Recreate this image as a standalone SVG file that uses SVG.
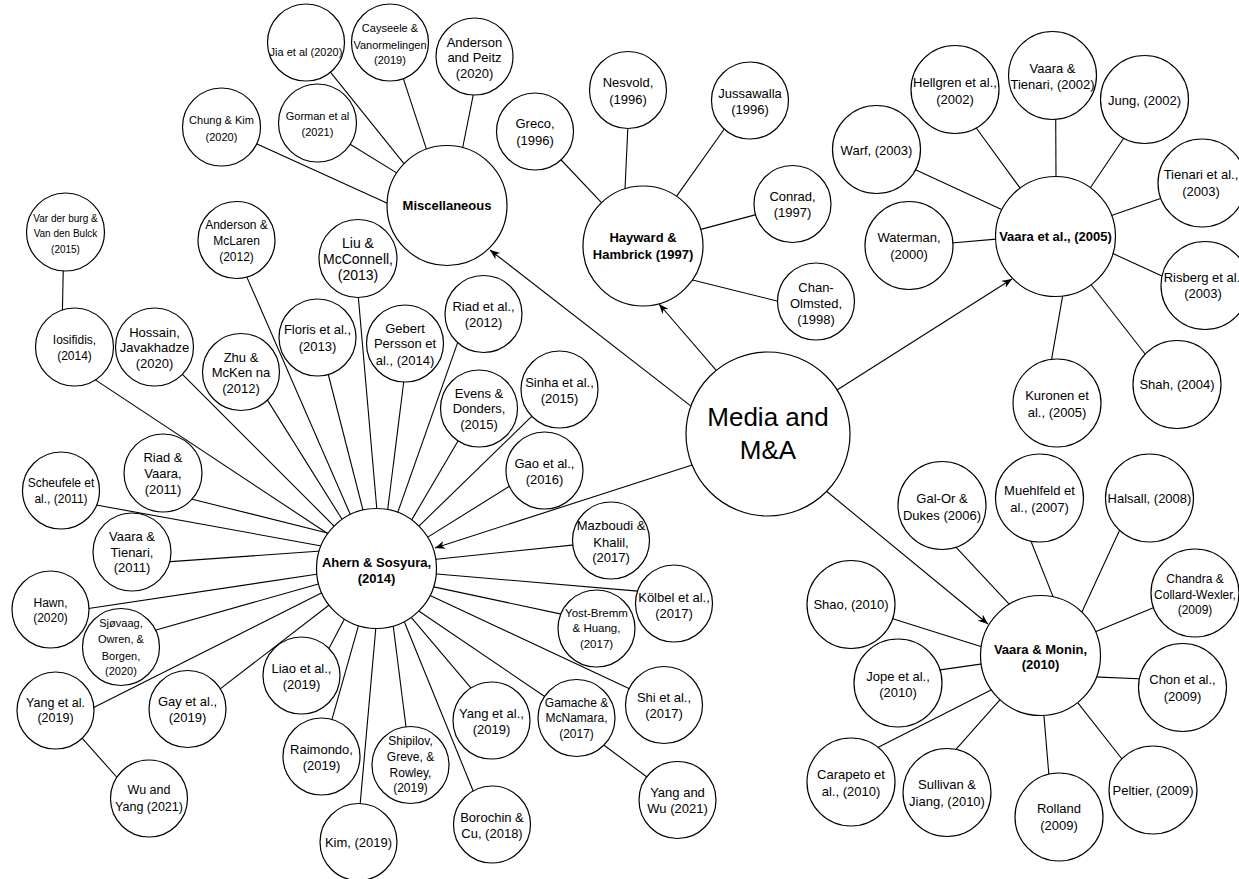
<svg xmlns="http://www.w3.org/2000/svg" width="1239" height="879" viewBox="0 0 1239 879">
<style>
.n circle{fill:#fff;stroke:#000;stroke-width:1.2}
#edges line{stroke:#000;stroke-width:1.1}
text{font-family:'Liberation Sans',Arial,Helvetica,sans-serif;text-anchor:middle;dominant-baseline:central;fill:#000}
.f10{font-size:10px}.f11{font-size:11px}.f12{font-size:12px}.f13{font-size:13px}.f14{font-size:14px}
.b{font-size:13px;font-weight:bold}
.big{font-size:26px}
</style>
<defs>
<marker id="arr" markerUnits="userSpaceOnUse" markerWidth="12" markerHeight="10" refX="10" refY="4" orient="auto">
<path d="M0,0 L10,4 L0,8 L3,4 z" fill="#000"/>
</marker>
</defs>
<rect width="1239" height="879" fill="#fff"/>
<g id="edges">
<line x1="329.4" y1="70.9" x2="405.2" y2="165.1"/>
<line x1="402.6" y1="76.3" x2="427" y2="150.9"/>
<line x1="474" y1="91.2" x2="462.2" y2="150"/>
<line x1="347.7" y1="142.8" x2="399.5" y2="174.6"/>
<line x1="253.5" y1="142.3" x2="389" y2="204.1"/>
<line x1="559.3" y1="158" x2="602.2" y2="203.3"/>
<line x1="628" y1="124.2" x2="625" y2="189"/>
<line x1="725.7" y1="127" x2="676.3" y2="196.6"/>
<line x1="758.8" y1="213.9" x2="699" y2="229.9"/>
<line x1="780.9" y1="302" x2="689.5" y2="279.3"/>
<line x1="974.8" y1="126" x2="1021.8" y2="190.4"/>
<line x1="1055.7" y1="114.7" x2="1056" y2="179"/>
<line x1="1125.2" y1="136" x2="1089.2" y2="189.5"/>
<line x1="913.9" y1="168.9" x2="1003.7" y2="210.4"/>
<line x1="948.6" y1="243.3" x2="999" y2="238.9"/>
<line x1="1163.3" y1="197.4" x2="1110.1" y2="216"/>
<line x1="1166.3" y1="277.9" x2="1112" y2="253.1"/>
<line x1="1050.7" y1="364.3" x2="1062.6" y2="296.1"/>
<line x1="1148.2" y1="358" x2="1090.9" y2="284.5"/>
<line x1="951.9" y1="542.9" x2="1010.6" y2="605.6"/>
<line x1="1029.2" y1="536.7" x2="1054.3" y2="599.9"/>
<line x1="1121.2" y1="526.8" x2="1080.9" y2="614.2"/>
<line x1="1156.3" y1="606.5" x2="1094.2" y2="632.2"/>
<line x1="888.8" y1="617.6" x2="984" y2="647.4"/>
<line x1="936.7" y1="670.4" x2="984" y2="663.6"/>
<line x1="875.3" y1="748.7" x2="992.5" y2="689.2"/>
<line x1="952.4" y1="753.4" x2="1000.1" y2="699.7"/>
<line x1="1049.1" y1="777.4" x2="1043.8" y2="714.1"/>
<line x1="1125.1" y1="763" x2="1076.1" y2="700.6"/>
<line x1="1144.3" y1="679" x2="1094.2" y2="676.9"/>
<line x1="63.3" y1="267.1" x2="62.4" y2="311.9"/>
<line x1="92" y1="377.6" x2="329.5" y2="534.8"/>
<line x1="180.2" y1="372.2" x2="336.1" y2="528.1"/>
<line x1="266.2" y1="398.1" x2="342.8" y2="520.5"/>
<line x1="246" y1="275.1" x2="351.3" y2="516.7"/>
<line x1="358" y1="293.2" x2="377" y2="511"/>
<line x1="327.9" y1="373" x2="363.7" y2="512.9"/>
<line x1="404.1" y1="379" x2="387.4" y2="512"/>
<line x1="457.9" y1="341.9" x2="396.9" y2="514.8"/>
<line x1="458.3" y1="440.5" x2="410.2" y2="522.4"/>
<line x1="533" y1="415.2" x2="416.9" y2="528.1"/>
<line x1="510.8" y1="485.4" x2="425.4" y2="538.6"/>
<line x1="576.8" y1="544.6" x2="434" y2="559.5"/>
<line x1="640.7" y1="591.4" x2="434" y2="573.7"/>
<line x1="563.7" y1="614.6" x2="430.2" y2="586.1"/>
<line x1="631.6" y1="689.7" x2="426.4" y2="593.7"/>
<line x1="547.3" y1="698.2" x2="416.9" y2="609.8"/>
<line x1="601.3" y1="743.2" x2="650" y2="779.3"/>
<line x1="473" y1="690.4" x2="411.2" y2="617.4"/>
<line x1="474.9" y1="795.3" x2="404.5" y2="622.2"/>
<line x1="406.5" y1="730.8" x2="393.1" y2="625"/>
<line x1="359.9" y1="806.9" x2="376" y2="626"/>
<line x1="331" y1="722.8" x2="358.9" y2="624.1"/>
<line x1="327.2" y1="651.7" x2="344.7" y2="618.4"/>
<line x1="218.6" y1="690.1" x2="331.4" y2="603.2"/>
<line x1="90.2" y1="709.2" x2="323.8" y2="591.8"/>
<line x1="80.3" y1="736.2" x2="120.2" y2="781"/>
<line x1="153.4" y1="630.8" x2="321" y2="583.2"/>
<line x1="85.2" y1="609" x2="320" y2="573.7"/>
<line x1="167.1" y1="561.9" x2="321" y2="551"/>
<line x1="93.4" y1="504.5" x2="322.8" y2="546.2"/>
<line x1="188.2" y1="498.2" x2="330.4" y2="533.8"/>
<line x1="693.9" y1="408.4" x2="490" y2="250" marker-end="url(#arr)"/>
<line x1="718.6" y1="373.2" x2="659" y2="304" marker-end="url(#arr)"/>
<line x1="836.6" y1="390.3" x2="1012" y2="279" marker-end="url(#arr)"/>
<line x1="825" y1="490" x2="988" y2="624" marker-end="url(#arr)"/>
<line x1="696.8" y1="463.5" x2="435" y2="548" marker-end="url(#arr)"/>
</g>

<g id="media" class="n"><circle cx="768" cy="434" r="82"/><text class="big"><tspan x="768" y="417">Media and</tspan><tspan x="768" y="450">M&amp;A</tspan></text></g>
<g id="misc" class="n"><circle cx="447" cy="205.5" r="60"/><text class="b" x="447" y="205">Miscellaneous</text></g>
<g id="hayward" class="n"><circle cx="643" cy="246" r="60"/><text class="b"><tspan x="643" y="237">Hayward &amp;</tspan><tspan x="643" y="254">Hambrick (1997)</tspan></text></g>
<g id="vaara2005" class="n"><circle cx="1055.5" cy="236.5" r="60"/><text class="b" x="1055.5" y="236">Vaara et al., (2005)</text></g>
<g id="vaaramonin" class="n"><circle cx="1040.5" cy="655.5" r="60"/><text class="b"><tspan x="1040.5" y="649">Vaara &amp; Monin,</tspan><tspan x="1040.5" y="664">(2010)</tspan></text></g>
<g id="ahern" class="n"><circle cx="376.5" cy="568.5" r="60"/><text class="b"><tspan x="376.5" y="562">Ahern &amp; Sosyura,</tspan><tspan x="376.5" y="578">(2014)</tspan></text></g>

<g id="jia" class="n"><circle cx="306" cy="42.5" r="38.5"/><text class="f11" x="306" y="52">Jia et al (2020)</text></g>
<g id="cayseele" class="n"><circle cx="390" cy="42.5" r="38.5"/><text class="f11"><tspan x="390" y="28">Cayseele &amp;</tspan><tspan x="390" y="45">Vanormelingen</tspan><tspan x="390" y="60">(2019)</tspan></text></g>
<g id="andersonpeitz" class="n"><circle cx="474.5" cy="56.5" r="38.5"/><text class="f13"><tspan x="474.5" y="42">Anderson</tspan><tspan x="474.5" y="57">and Peitz</tspan><tspan x="474.5" y="73">(2020)</tspan></text></g>
<g id="gorman" class="n"><circle cx="317.5" cy="123" r="39"/><text class="f11"><tspan x="317.5" y="116">Gorman et al</tspan><tspan x="317.5" y="132">(2021)</tspan></text></g>
<g id="chung" class="n"><circle cx="221.5" cy="127" r="39"/><text class="f11"><tspan x="221.5" y="120">Chung &amp; Kim</tspan><tspan x="221.5" y="137">(2020)</tspan></text></g>

<g id="greco" class="n"><circle cx="535" cy="131.5" r="38.5"/><text class="f13"><tspan x="535" y="123">Greco,</tspan><tspan x="535" y="140">(1996)</tspan></text></g>
<g id="nesvold" class="n"><circle cx="628" cy="90" r="38.5"/><text class="f13"><tspan x="628" y="82">Nesvold,</tspan><tspan x="628" y="99">(1996)</tspan></text></g>
<g id="jussawalla" class="n"><circle cx="750" cy="100.5" r="38.5"/><text class="f13"><tspan x="750" y="93">Jussawalla</tspan><tspan x="750" y="109">(1996)</tspan></text></g>
<g id="conrad" class="n"><circle cx="792.5" cy="204" r="38.5"/><text class="f13"><tspan x="792.5" y="196">Conrad,</tspan><tspan x="792.5" y="212">(1997)</tspan></text></g>
<g id="chanolmsted" class="n"><circle cx="816" cy="301.5" r="38.5"/><text class="f13"><tspan x="816" y="287">Chan-</tspan><tspan x="816" y="303">Olmsted,</tspan><tspan x="816" y="319">(1998)</tspan></text></g>

<g id="hellgren" class="n"><circle cx="955" cy="89.5" r="44"/><text class="f13"><tspan x="955" y="82">Hellgren et al.,</tspan><tspan x="955" y="99">(2002)</tspan></text></g>
<g id="vaaratienari2002" class="n"><circle cx="1052.5" cy="75.5" r="44"/><text class="f13"><tspan x="1052.5" y="68">Vaara &amp;</tspan><tspan x="1052.5" y="84">Tienari, (2002)</tspan></text></g>
<g id="jung" class="n"><circle cx="1144.5" cy="99.5" r="44"/><text class="f13" x="1144.5" y="100">Jung, (2002)</text></g>
<g id="warf" class="n"><circle cx="876.5" cy="149.5" r="44"/><text class="f13" x="876.5" y="150">Warf, (2003)</text></g>
<g id="waterman" class="n"><circle cx="909" cy="245.5" r="44"/><text class="f13"><tspan x="909" y="237">Waterman,</tspan><tspan x="909" y="254">(2000)</tspan></text></g>
<g id="tienari2003" class="n"><circle cx="1202" cy="183" r="44"/><text class="f13"><tspan x="1201" y="174">Tienari et al.,</tspan><tspan x="1201" y="191">(2003)</tspan></text></g>
<g id="risberg" class="n"><circle cx="1205" cy="285.5" r="44"/><text class="f13"><tspan x="1202" y="277">Risberg et al.</tspan><tspan x="1203" y="293">(2003)</tspan></text></g>
<g id="kuronen" class="n"><circle cx="1057" cy="403" r="44"/><text class="f13"><tspan x="1057" y="395">Kuronen et</tspan><tspan x="1057" y="412">al., (2005)</tspan></text></g>
<g id="shah" class="n"><circle cx="1177" cy="384.5" r="44"/><text class="f13" x="1177" y="384">Shah, (2004)</text></g>

<g id="galor" class="n"><circle cx="942" cy="505.5" r="44"/><text class="f13"><tspan x="942" y="498">Gal-Or &amp;</tspan><tspan x="942" y="515">Dukes (2006)</tspan></text></g>
<g id="muehlfeld" class="n"><circle cx="1039.5" cy="498" r="44"/><text class="f13"><tspan x="1039.5" y="490">Muehlfeld et</tspan><tspan x="1039.5" y="507">al., (2007)</tspan></text></g>
<g id="halsall" class="n"><circle cx="1149.5" cy="498" r="44"/><text class="f13" x="1149.5" y="498">Halsall, (2008)</text></g>
<g id="chandra" class="n"><circle cx="1195" cy="593" r="44"/><text class="f12"><tspan x="1195" y="579">Chandra &amp;</tspan><tspan x="1195" y="595">Collard-Wexler,</tspan><tspan x="1195" y="610">(2009)</tspan></text></g>
<g id="shao" class="n"><circle cx="851" cy="604.5" r="44"/><text class="f13" x="851" y="604">Shao, (2010)</text></g>
<g id="jope" class="n"><circle cx="898" cy="683" r="44"/><text class="f13"><tspan x="898" y="676">Jope et al.,</tspan><tspan x="898" y="692">(2010)</tspan></text></g>
<g id="carapeto" class="n"><circle cx="851" cy="782" r="44"/><text class="f13"><tspan x="851" y="774">Carapeto et</tspan><tspan x="851" y="791">al., (2010)</tspan></text></g>
<g id="sullivan" class="n"><circle cx="947" cy="792.5" r="44"/><text class="f13"><tspan x="947" y="784">Sullivan &amp;</tspan><tspan x="947" y="801">Jiang, (2010)</tspan></text></g>
<g id="rolland" class="n"><circle cx="1059" cy="817" r="44"/><text class="f13"><tspan x="1059" y="808">Rolland</tspan><tspan x="1059" y="825">(2009)</tspan></text></g>
<g id="peltier" class="n"><circle cx="1153" cy="790" r="44"/><text class="f13" x="1153" y="790">Peltier, (2009)</text></g>
<g id="chon" class="n"><circle cx="1182.5" cy="687.5" r="44"/><text class="f13"><tspan x="1182.5" y="679">Chon et al.,</tspan><tspan x="1182.5" y="696">(2009)</tspan></text></g>

<g id="vanderburg" class="n"><circle cx="65.5" cy="232" r="39"/><text class="f10"><tspan x="65.5" y="218">Var der burg &amp;</tspan><tspan x="65.5" y="233">Van den Bulck</tspan><tspan x="65.5" y="249">(2015)</tspan></text></g>
<g id="iosifidis" class="n"><circle cx="74.5" cy="347" r="39"/><text class="f12"><tspan x="74.5" y="340">Iosifidis,</tspan><tspan x="74.5" y="356">(2014)</tspan></text></g>
<g id="hossain" class="n"><circle cx="154.5" cy="347" r="39"/><text class="f13"><tspan x="154.5" y="332">Hossain,</tspan><tspan x="154.5" y="347">Javakhadze</tspan><tspan x="154.5" y="363">(2020)</tspan></text></g>
<g id="zhu" class="n"><circle cx="241" cy="372" r="38.5"/><text class="f13"><tspan x="241" y="357">Zhu &amp;</tspan><tspan x="241" y="372">McKen na</tspan><tspan x="241" y="388">(2012)</tspan></text></g>
<g id="andersonmclaren" class="n"><circle cx="236.5" cy="240" r="38.5"/><text class="f12"><tspan x="236.5" y="225">Anderson &amp;</tspan><tspan x="236.5" y="241">McLaren</tspan><tspan x="236.5" y="257">(2012)</tspan></text></g>
<g id="liu" class="n"><circle cx="358" cy="258.5" r="39"/><text class="f14"><tspan x="358" y="243">Liu &amp;</tspan><tspan x="358" y="259">McConnell,</tspan><tspan x="358" y="275">(2013)</tspan></text></g>
<g id="floris" class="n"><circle cx="317.5" cy="337.5" r="38.5"/><text class="f13"><tspan x="317.5" y="329">Floris et al.,</tspan><tspan x="317.5" y="346">(2013)</tspan></text></g>
<g id="gebert" class="n"><circle cx="405" cy="343.5" r="38.5"/><text class="f13"><tspan x="405" y="328">Gebert</tspan><tspan x="405" y="343">Persson et</tspan><tspan x="405" y="360">al., (2014)</tspan></text></g>
<g id="riad2012" class="n"><circle cx="483.5" cy="314" r="38.5"/><text class="f13"><tspan x="483.5" y="306">Riad et al.,</tspan><tspan x="483.5" y="322">(2012)</tspan></text></g>
<g id="evens" class="n"><circle cx="479" cy="408.5" r="38.5"/><text class="f13"><tspan x="479" y="393">Evens &amp;</tspan><tspan x="479" y="408">Donders,</tspan><tspan x="479" y="424">(2015)</tspan></text></g>
<g id="sinha" class="n"><circle cx="559.5" cy="389.5" r="38.5"/><text class="f13"><tspan x="559.5" y="382">Sinha et al.,</tspan><tspan x="559.5" y="398">(2015)</tspan></text></g>
<g id="gao" class="n"><circle cx="544.5" cy="470.5" r="38.5"/><text class="f13"><tspan x="544.5" y="463">Gao et al.,</tspan><tspan x="544.5" y="479">(2016)</tspan></text></g>
<g id="mazboudi" class="n"><circle cx="611" cy="540.5" r="38.5"/><text class="f13"><tspan x="611" y="525">Mazboudi &amp;</tspan><tspan x="611" y="542">Khalil,</tspan><tspan x="611" y="557">(2017)</tspan></text></g>
<g id="kolbel" class="n"><circle cx="674" cy="603.5" r="38.5"/><text class="f13"><tspan x="674" y="597">Kölbel et al.,</tspan><tspan x="674" y="613">(2017)</tspan></text></g>
<g id="yostbremm" class="n"><circle cx="596.5" cy="628.5" r="38.5"/><text style="font-size:11.5px"><tspan x="596.5" y="613">Yost-Bremm</tspan><tspan x="596.5" y="628">&amp; Huang,</tspan><tspan x="596.5" y="644">(2017)</tspan></text></g>
<g id="shi" class="n"><circle cx="664" cy="705" r="38.5"/><text class="f13"><tspan x="664" y="697">Shi et al.,</tspan><tspan x="664" y="713">(2017)</tspan></text></g>
<g id="gamache" class="n"><circle cx="576.5" cy="718" r="38.5"/><text class="f12"><tspan x="576.5" y="703">Gamache &amp;</tspan><tspan x="576.5" y="718">McNamara,</tspan><tspan x="576.5" y="734">(2017)</tspan></text></g>
<g id="yangwu" class="n"><circle cx="677.5" cy="800" r="38.5"/><text class="f13"><tspan x="677.5" y="792">Yang and</tspan><tspan x="677.5" y="808">Wu (2021)</tspan></text></g>
<g id="yang2019b" class="n"><circle cx="491.5" cy="720.5" r="38.5"/><text class="f13"><tspan x="491.5" y="713">Yang et al.,</tspan><tspan x="491.5" y="729">(2019)</tspan></text></g>
<g id="borochin" class="n"><circle cx="492" cy="824.5" r="38.5"/><text class="f13"><tspan x="492" y="817">Borochin &amp;</tspan><tspan x="492" y="833">Cu, (2018)</tspan></text></g>
<g id="shipilov" class="n"><circle cx="410.5" cy="765" r="38.5"/><text class="f12"><tspan x="410.5" y="741">Shipilov,</tspan><tspan x="410.5" y="757">Greve, &amp;</tspan><tspan x="410.5" y="773">Rowley,</tspan><tspan x="410.5" y="788">(2019)</tspan></text></g>
<g id="kim" class="n"><circle cx="358.5" cy="842" r="38.5"/><text class="f13" x="358.5" y="842">Kim, (2019)</text></g>
<g id="raimondo" class="n"><circle cx="321.5" cy="756.5" r="38.5"/><text class="f13"><tspan x="321.5" y="749">Raimondo,</tspan><tspan x="321.5" y="765">(2019)</tspan></text></g>
<g id="liao" class="n"><circle cx="301.5" cy="675.5" r="38.5"/><text class="f13"><tspan x="301.5" y="668">Liao et al.,</tspan><tspan x="301.5" y="684">(2019)</tspan></text></g>
<g id="gay" class="n"><circle cx="187.5" cy="709" r="38.5"/><text class="f13"><tspan x="187.5" y="701">Gay et al.,</tspan><tspan x="187.5" y="717">(2019)</tspan></text></g>
<g id="yang2019a" class="n"><circle cx="55.5" cy="710.5" r="38.5"/><text style="font-size:12.5px"><tspan x="55.5" y="703">Yang et al.</tspan><tspan x="55.5" y="718">(2019)</tspan></text></g>
<g id="wuyang" class="n"><circle cx="149" cy="798.5" r="38.5"/><text style="font-size:12.5px"><tspan x="149" y="790">Wu and</tspan><tspan x="149" y="807">Yang (2021)</tspan></text></g>
<g id="sjovaag" class="n"><circle cx="121" cy="647" r="38.5"/><text class="f11"><tspan x="121" y="623">Sjøvaag,</tspan><tspan x="121" y="639">Owren, &amp;</tspan><tspan x="121" y="656">Borgen,</tspan><tspan x="121" y="671">(2020)</tspan></text></g>
<g id="hawn" class="n"><circle cx="50.5" cy="609.5" r="38.5"/><text class="f12"><tspan x="50.5" y="603">Hawn,</tspan><tspan x="50.5" y="618">(2020)</tspan></text></g>
<g id="vaaratienari2011" class="n"><circle cx="132" cy="552" r="39"/><text class="f13"><tspan x="132" y="536">Vaara &amp;</tspan><tspan x="132" y="552">Tienari,</tspan><tspan x="132" y="567">(2011)</tspan></text></g>
<g id="scheufele" class="n"><circle cx="61" cy="490.5" r="38.5"/><text class="f12"><tspan x="61" y="483">Scheufele et</tspan><tspan x="61" y="499">al., (2011)</tspan></text></g>
<g id="riadvaara" class="n"><circle cx="163" cy="473" r="39"/><text class="f13"><tspan x="163" y="457">Riad &amp;</tspan><tspan x="163" y="473">Vaara,</tspan><tspan x="163" y="489">(2011)</tspan></text></g>
</svg>
